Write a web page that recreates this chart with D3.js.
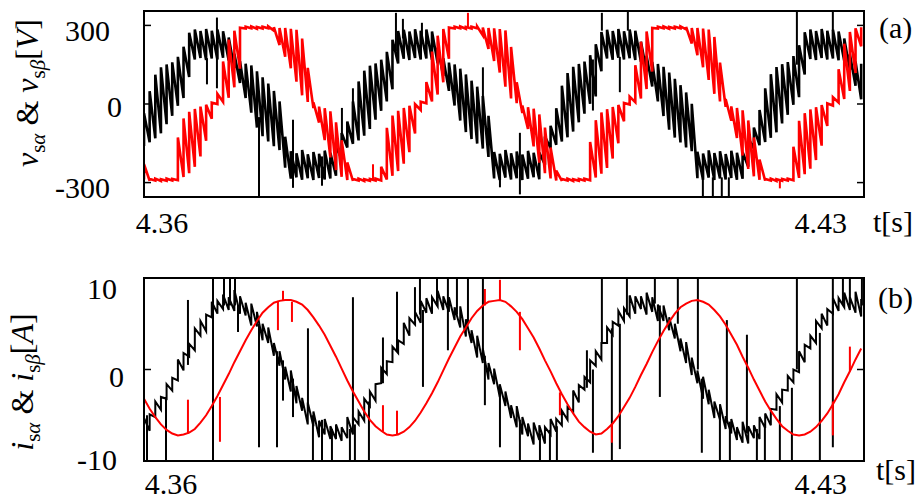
<!DOCTYPE html>
<html>
<head>
<meta charset="utf-8">
<script src="https://cdn.jsdelivr.net/npm/d3@7"></script>
<style>
  body { margin: 0; background: #fff; }
  text { font-family: "Liberation Serif", "Times New Roman", serif; fill: #000; }
</style>
</head>
<body>
<div id="chart"></div>
<script>
// sampled record: one value every tStep seconds, starting at tStart
var tStart = 4.3581;
var tStep = 0.0006;

// v_s_alpha (black), upper / lower edge of the switching band [V]
var vAlphaHi = [-35,49,112,140,151,159,180,219,272,284, 279,286,280,284,278,254,192,163,154,147,
  125,102,78,50,10,-125,-180,-188,-176,-192, -183,-190,-178,-186,-159,-111,-67,10,86,127,
  146,155,169,199,245,279,283,277,285,280, 284,277,216,175,158,151,135,113,89,66,
  31,-45,-183,-190,-176,-188,-181,-193,-179,-186, -185,-124,-83,-16,70,118,142,153,162,186,
  228,275,283,279,286,278,284,280,238,184, 161,153,142,120,96,72,44,1,-182,-189,
  -177,-187,-180,-191,-178,-186,-183,-130,-90,-23, 60,114,141,152,160,183,224,274,284,279,
  286,280,283,277,250,190,162,154];
var vAlphaLo = [-160,-146,-131,-112,-77,-45,-7,23,103,170, 176,168,174,170,177,166,136,80,23,-33,
  -90,-123,-143,-161,-176,-243,-285,-280,-289,-283, -290,-282,-288,-284,-274,-211,-166,-152,-139,-121,
  -95,-60,-26,10,56,155,173,168,176,170, 174,169,155,107,50,-6,-63,-107,-134,-151,
  -170,-202,-284,-290,-281,-288,-283,-290,-285,-280, -287,-232,-169,-156,-143,-127,-105,-70,-37,1,
  29,125,174,169,177,170,175,168,161,123, 67,10,-46,-98,-128,-147,-166,-180,-283,-289,
  -281,-290,-284,-288,-282,-289,-285,-240,-170,-157, -145,-129,-108,-74,-41,-3,26,113,172,168,
  176,170,174,167,165,130,70,18];

// v_s_beta (red), upper / lower edge [V]
var vBetaHi = [-230,-286,-285,-287,-285,-286,-128,-55,-30,-19, -10,-3,5,39,162,246,280,291,295,296,
  294,295,296,293,290,290,287,283,250,138, 6,-10,-16,-28,-70,-138,-223,-286,-285,-287,
  -286,-285,-240,-91,-44,-26,-15,-7,-1,9, 84,200,261,286,292,295,296,294,295,296,
  292,290,289,286,281,218,83,-6,-12,-18, -40,-90,-166,-254,-286,-285,-287,-286,-285,-145,
  -62,-32,-20,-11,-4,4,28,148,238,277, 290,295,296,294,295,296,294,290,290,288,
  284,256,158,19,-9,-15,-24,-63,-128,-212, -286,-285,-287,-286,-285,-163,-64,-35,-21,-12,
  -4,2,26,133,230,275,289,293];
var vBetaLo = [-288,-293,-292,-294,-293,-292,-291,-279,-264,-240, -200,-140,-56,0,8,24,64,135,288,289,
  287,288,289,280,225,180,136,85,33,8, -16,-71,-138,-204,-252,-278,-290,-293,-292,-294,
  -293,-292,-292,-288,-274,-256,-228,-184,-113,-23, 3,10,36,83,173,288,289,287,288,289,
  262,210,164,120,66,21,3,-34,-95,-162, -224,-264,-284,-292,-293,-292,-294,-293,-292,-291,
  -281,-266,-244,-208,-150,-66,-2,7,21,57, 124,288,289,287,288,289,285,231,186,140,
  92,39,10,-11,-64,-130,-197,-248,-276,-289, -293,-292,-294,-293,-292,-291,-282,-268,-247,-214,
  -159,-84,-6,6,19,50,118,220];

// i_s_alpha (black), upper / lower edge of the ripple [A]
var iAlphaHi = [-5.3,-4.9,-3.5,-3.0,-1.6,-0.9,1.1,1.8,2.8,4.5, 5.3,6.0,7.4,7.5,8.2,7.9,8.7,8.0,7.3,7.2,
  6.3,5.0,4.6,2.9,2.0,0.3,-0.1,-1.8,-3.1,-3.6, -4.6,-5.6,-5.4,-6.2,-6.0,-6.3,-5.2,-5.2,-4.6,-3.2,
  -2.4,-1.6,0.2,0.9,2.5,3.2,5.1,5.6,6.3,7.5, 7.8,7.9,8.6,8.0,7.9,6.8,6.9,5.5,4.3,3.7,
  2.3,0.7,0.1,-1.6,-2.4,-3.9,-4.0,-5.2,-5.9,-5.8, -6.1,-6.3,-5.4,-5.4,-4.5,-4.1,-2.3,-1.7,-0.8,1.0,
  2.0,2.9,4.6,5.2,6.4,6.7,8.1,8.0,8.0,8.4, 7.9,7.1,7.0,5.7,5.0,3.4,3.0,1.3,-0.1,-0.8,
  -2.2,-3.5,-3.8,-5.1,-5.4,-6.3,-5.7,-6.2,-6.1,-5.2, -4.8,-4.3,-2.7,-2.2,-0.7,0.0,2.0,2.7,3.7,5.3,
  6.1,6.6,7.8,7.8,8.4,7.9,8.5,7.7];
var iAlphaLo = [-8.9,-6.7,-5.2,-4.4,-3.2,-2.3,-1.2,-0.1,1.4,2.1, 3.7,4.2,5.7,6.1,6.6,6.5,6.4,6.1,5.9,4.8,
  4.7,3.2,2.9,1.5,0.4,-1.1,-2.4,-3.7,-4.5,-6.0, -6.2,-7.4,-7.1,-7.6,-7.6,-7.8,-7.5,-7.1,-6.0,-5.6,
  -4.0,-3.4,-1.5,-0.5,0.8,1.8,2.8,3.7,4.9,5.1, 6.2,6.1,6.9,6.5,6.3,5.4,4.6,3.6,2.9,1.3,
  0.7,-1.1,-1.6,-3.0,-4.0,-5.3,-6.3,-7.1,-7.3,-8.2, -7.7,-8.1,-7.1,-6.8,-6.1,-5.5,-4.6,-3.6,-2.2,-1.4,
  0.4,1.1,2.9,3.8,4.8,5.3,5.8,6.1,6.6,6.0, 6.3,5.3,5.3,4.3,3.4,2.0,0.7,-0.6,-1.5,-3.2,
  -3.8,-5.3,-5.5,-6.5,-7.0,-7.7,-8.0,-8.1,-7.5,-7.6, -6.4,-6.1,-4.4,-3.6,-2.3,-1.4,-0.3,0.8,2.3,2.9,
  4.5,4.8,6.1,6.4,6.8,6.5,6.2,5.8];

// i_s_beta (red) [A]
var iBeta = [-3.2,-4.3,-5.2,-6.0,-6.6,-7.0,-7.2,-7.1,-6.9,-6.5, -5.8,-5.0,-4.0,-2.9,-1.7,-0.5,0.8,2.0,3.2,4.3,
  5.3,6.2,6.8,7.3,7.5,7.6,7.6,7.4,7.1,6.5, 5.7,4.8,3.8,2.6,1.4,0.1,-1.2,-2.4,-3.5,-4.6,
  -5.5,-6.2,-6.7,-7.1,-7.2,-7.1,-6.8,-6.3,-5.6,-4.7, -3.7,-2.6,-1.4,-0.1,1.2,2.4,3.6,4.6,5.6,6.4,
  7.0,7.4,7.5,7.6,7.4,6.9,6.3,5.5,4.5,3.5, 2.3,1.0,-0.2,-1.5,-2.7,-3.8,-4.8,-5.7,-6.3,-6.8,
  -7.1,-7.0,-6.5,-5.9,-5.1,-4.1,-3.1,-1.9,-0.6,0.6, 1.9,3.1,4.2,5.2,6.1,6.8,7.2,7.5,7.6,7.4,
  7.1,6.5,5.8,4.9,3.8,2.7,1.4,0.2,-1.1,-2.3, -3.5,-4.5,-5.4,-6.2,-6.7,-7.1,-7.2,-7.1,-6.8,-6.3,
  -5.6,-4.8,-3.8,-2.7,-1.4,-0.2,1.1,2.3];

// isolated switching spikes: [t, from, to]
var vAlphaSpikes = [[4.36479,175,75],[4.36585,60,330],[4.37032,-50,-360],[4.37393,-60,-320],
  [4.37701,-200,-312],[4.37913,-120,-15],[4.38030,-100,60],[4.38487,200,348],[4.38561,250,325],
  [4.38763,250,310],[4.39411,140,-135],[4.39592,-200,-318],[4.39804,-110,-345],[4.40580,170,-25],
  [4.40675,280,348],[4.40866,180,45],[4.40951,280,352],[4.41748,-280,-360],[4.41854,-280,-360],
  [4.41949,-280,-360],[4.42024,-280,-360],[4.42747,150,352],[4.43129,280,352]];
var vBetaSpikes = [[4.38243,-290,-230],[4.39252,290,348],[4.42566,-290,-322]];
var iAlphaSpikes = [[4.35842,-5,-11],[4.36044,-3,-11],[4.36277,0.5,7.6],[4.36543,11,-11],[4.36660,7,11],
  [4.36724,7,11],[4.36777,7,11],[4.36809,7,4.1],[4.37032,5,-8.5],[4.37223,2,-8.5],[4.37287,1,-3.4],
  [4.37393,-1,-5.2],[4.37552,-4,4.5],[4.37605,-5,-11],[4.37701,-5.5,-11],[4.37807,-6.5,-11],
  [4.37998,-6.5,-11],[4.38030,-6,7.9],[4.38051,-6,-11],[4.38200,-3.5,-11],[4.38349,-1.5,3.5],
  [4.38498,2,8.5],[4.38689,5.5,9],[4.38742,6,11],[4.38774,6.5,-1.9],[4.38923,7.3,11],[4.39039,7,11],
  [4.39039,7,2.1],[4.39135,6,11],[4.39252,5,11],[4.39411,2,11],[4.39432,1.5,-3.9],[4.39592,-2,-8.5],
  [4.39804,-5.5,-11],[4.40017,-7,-11],[4.40123,-6.6,-11],[4.40197,-6.2,-11],[4.40516,-2,2.1],
  [4.40580,0,-9.1],[4.40675,3,11],[4.40781,4.5,-11],[4.40866,5,-8.7],[4.40941,6,11],[4.41238,7.2,11],
  [4.41291,7,-3],[4.41482,5,11],[4.41695,0,11],[4.41737,-1,-9.1],[4.41929,-5,-11],[4.42003,-5.5,5.4],
  [4.42035,-5.7,-11],[4.42216,-7,3.8],[4.42322,-6.5,-11],[4.42407,-6,-11],[4.42566,-4,-11],
  [4.42694,-2,-11],[4.42747,0,11],[4.42991,4,-11],[4.43129,6.5,-8.5],[4.43129,6.5,11],[4.43236,7.2,11],
  [4.43310,7.4,11],[4.43438,7,11]];
var iBetaSpikes = [[4.36277,-7,-3.3],[4.36617,-3,-7.9],[4.37233,7.5,4.3],[4.37287,7.6,8.6],[4.37382,7.4,5.2],
  [4.38349,-6.8,-3.9],[4.38498,-7.1,-4.5],[4.39432,7.0,8.8],[4.39592,7.5,9.8],[4.39804,6.3,2.1],
  [4.40229,-2.5,-5.0],[4.40781,-6.0,-8.0],[4.43129,-3.5,-7.2],[4.43310,-0.2,2.5]];

var vTicks = [-300, 0, 300];
var iTicks = [-10, 0, 10];
var tTicks = [4.36, 4.43];

// page
var svgWidth = 919, svgHeight = 502;
var svg = d3.select("#chart").append("svg")
  .attr("width", svgWidth)
  .attr("height", svgHeight)
  .attr("font-family", "'Liberation Serif', 'Times New Roman', serif");

var x = d3.scaleLinear().domain([4.3581, 4.4346]).range([144, 864]);
var yV = d3.scaleLinear().domain([-355, 355]).range([197, 11]);
var yI = d3.scaleLinear().domain([-10, 10]).range([461, 278]);

function timeOf(i) { return tStart + i * tStep; }

// switching band drawn as a sawtooth: rise to the upper edge, fall to the next lower edge
function bandPath(hi, lo, y) {
  var pts = [];
  hi.forEach(function(h, i) {
    var t = timeOf(i);
    pts.push([t, lo[i]], [t, h]);
  });
  return d3.line().x(d => x(d[0])).y(d => y(d[1]))(pts);
}

function panel(id, y, top, bottom) {
  svg.append("clipPath").attr("id", id)
    .append("rect")
    .attr("x", 144).attr("y", top)
    .attr("width", 720).attr("height", bottom - top);
  return svg.append("g").attr("clip-path", "url(#" + id + ")");
}

function spikes(g, data, y, color, w) {
  g.selectAll(null).data(data).enter().append("line")
    .attr("x1", d => x(d[0])).attr("x2", d => x(d[0]))
    .attr("y1", d => y(d[1])).attr("y2", d => y(d[2]))
    .attr("stroke", color).attr("stroke-width", w);
}

function frame(y, ticks, top, bottom) {
  svg.append("rect")
    .attr("x", 144).attr("y", top)
    .attr("width", 720).attr("height", bottom - top)
    .attr("fill", "none").attr("stroke", "#000").attr("stroke-width", 2);
  svg.selectAll(null).data(ticks).enter().append("line")
    .attr("x1", 144).attr("x2", 151)
    .attr("y1", d => y(d)).attr("y2", d => y(d))
    .attr("stroke", "#000").attr("stroke-width", 1.5);
  svg.selectAll(null).data(ticks).enter().append("line")
    .attr("x1", 857).attr("x2", 864)
    .attr("y1", d => y(d)).attr("y2", d => y(d))
    .attr("stroke", "#000").attr("stroke-width", 1.5);
}

// ---------- (a) voltages ----------
var gV = panel("clipV", yV, 11, 197);
gV.append("path").attr("d", bandPath(vAlphaHi, vAlphaLo, yV))
  .attr("fill", "none").attr("stroke", "#000").attr("stroke-width", 2.6);
spikes(gV, vAlphaSpikes, yV, "#000", 2);
gV.append("path").attr("d", bandPath(vBetaHi, vBetaLo, yV))
  .attr("fill", "none").attr("stroke", "#ff0000").attr("stroke-width", 2.6);
spikes(gV, vBetaSpikes, yV, "#ff0000", 2);
frame(yV, vTicks, 11, 197);

// ---------- (b) currents ----------
var gI = panel("clipI", yI, 278, 461);
gI.append("path").attr("d", bandPath(iAlphaHi, iAlphaLo, yI))
  .attr("fill", "none").attr("stroke", "#000").attr("stroke-width", 2);
spikes(gI, iAlphaSpikes, yI, "#000", 2);
gI.append("path").datum(iBeta)
  .attr("d", d3.line().x((d, i) => x(timeOf(i))).y(d => yI(d)))
  .attr("fill", "none").attr("stroke", "#ff0000").attr("stroke-width", 2);
spikes(gI, iBetaSpikes, yI, "#ff0000", 2);
frame(yI, iTicks, 278, 461);

// ---------- labels ----------
var vLabelShift = {"-300": [0, 5], "0": [12, 3], "300": [0, 6]};
svg.selectAll(null).data(vTicks).enter().append("text")
  .attr("x", d => 110 + vLabelShift[d][0])
  .attr("y", d => yV(d) + vLabelShift[d][1] + 10)
  .attr("text-anchor", "end")
  .style("font-size", "30px")
  .text(d => d);

var iLabelShift = {"-10": [0, -1], "0": [7, 7], "10": [0, 11]};
svg.selectAll(null).data(iTicks).enter().append("text")
  .attr("x", d => 117 + iLabelShift[d][0])
  .attr("y", d => yI(d) + iLabelShift[d][1] + 10)
  .attr("text-anchor", "end")
  .style("font-size", "30px")
  .text(d => d);

[[233, 0], [494, 9]].forEach(function(p) {
  svg.selectAll(null).data(tTicks).enter().append("text")
    .attr("x", (d, i) => x(d) + (i === 0 ? p[1] : 0))
    .attr("y", p[0])
    .attr("text-anchor", "middle")
    .style("font-size", "30px")
    .text(d => d.toFixed(2));
});

svg.append("text").attr("x", 873).attr("y", 232).style("font-size", "30px").text("t[s]");
svg.append("text").attr("x", 876).attr("y", 480).style("font-size", "30px").text("t[s]");
svg.append("text").attr("x", 879).attr("y", 38).style("font-size", "30px").text("(a)");
svg.append("text").attr("x", 878).attr("y", 308).style("font-size", "30px").text("(b)");

function yTitle(sym, unit, cx, cy) {
  var t = svg.append("text")
    .attr("transform", "translate(" + cx + "," + cy + ") rotate(-90)")
    .attr("text-anchor", "middle")
    .style("font-size", "32px");
  t.append("tspan").style("font-style", "italic").text(sym);
  t.append("tspan").style("font-size", "21px").attr("dy", 7).text("s");
  t.append("tspan").style("font-size", "21px").style("font-style", "italic").text("\u03b1");
  t.append("tspan").attr("dy", -7).text(" & ");
  t.append("tspan").style("font-style", "italic").text(sym);
  t.append("tspan").style("font-size", "21px").attr("dy", 7).text("s");
  t.append("tspan").style("font-size", "21px").style("font-style", "italic").text("\u03b2");
  t.append("tspan").attr("dy", -7).text("[");
  t.append("tspan").style("font-style", "italic").text(unit);
  t.append("tspan").text("]");
}
yTitle("v", "V", 38, 93);
yTitle("i", "A", 33, 382);
</script>
</body>
</html>
